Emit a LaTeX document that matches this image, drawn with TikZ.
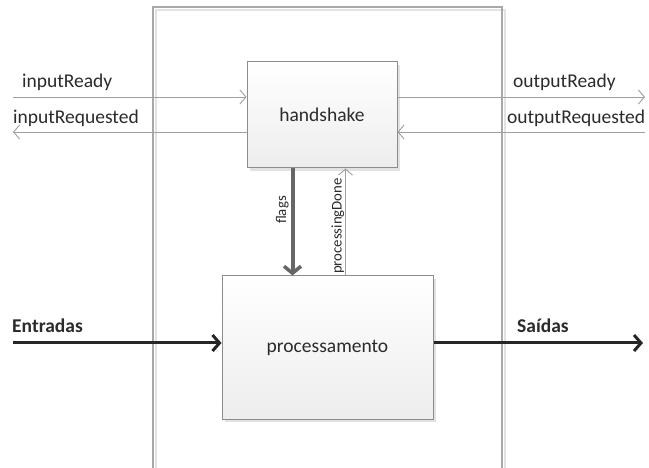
\documentclass[tikz,border=0pt]{standalone}
\usepackage{fontspec}
\setmainfont{Carlito}
\usetikzlibrary{arrows.meta}
\definecolor{txt}{HTML}{2B2B2B}
\definecolor{thinline}{HTML}{A0A0A0}
\definecolor{boxline}{HTML}{8C8C8C}
\definecolor{frameline}{HTML}{A8A8A8}
\definecolor{shadowc}{HTML}{E2E2E2}
\tikzset{
  lbl/.style={font=\fontsize{19.5}{23}\selectfont, text=txt, inner sep=0pt},
  slbl/.style={lbl, font=\fontsize{14.8}{17}\selectfont},
  blbl/.style={lbl, font=\fontsize{19.5}{23}\selectfont\bfseries},
  block/.style={draw=boxline, line width=1pt, top color=white, bottom color=black!7,
    minimum width=#1, inner sep=0pt, font=\fontsize{19.5}{23}\selectfont, text=txt},
  thinarrow/.style={draw=thinline, line width=0.9pt,
    -{Straight Barb[length=6pt,width=14pt,line width=0.9pt]}},
  thickarrow/.style={draw=black!85, line width=3pt,
    -{Straight Barb[length=7pt,width=16pt,line width=3pt]}},
  flagarrow/.style={draw=black!60, line width=4pt,
    -{Straight Barb[length=7pt,width=17pt,line width=3.5pt]}},
}
\begin{document}
\begin{tikzpicture}[x=1pt,y=-1pt]
  \useasboundingbox (0,0) rectangle (649,468);
  \fill[white] (0,0) rectangle (649,468);

  % open frame around the two blocks
  \draw[shadowc, line width=1.2pt] (156,468) -- (156,10) -- (505,10) -- (505,468);
  \draw[frameline, line width=1.3pt] (153,468) -- (153,7) -- (502,7) -- (502,468);

  % block shadows
  \fill[shadowc] (250,65) rectangle (400,171);
  \fill[shadowc] (225,279) rectangle (436,422);

  % blocks
  \node[block=150pt, minimum height=106pt] (hs) at (322,115) {handshake};
  \node[block=211pt, minimum height=143pt] (pr) at (327.5,347.5) {processamento};

  % free ends of the outer connectors
  \coordinate (inR) at (13,97);
  \coordinate (inQ) at (13,132);
  \coordinate (outR) at (645,97);
  \coordinate (outQ) at (645,132);
  \coordinate (ent) at (13,343);
  \coordinate (sai) at (643,343);

  % handshake signals
  \draw[thinarrow] (inR) -- (inR -| hs.west);
  \draw[thinarrow] (inQ -| hs.west) -- (inQ);
  \draw[thinarrow] (outR -| hs.east) -- (outR);
  \draw[thinarrow] (outQ) -- (outQ -| hs.east);

  \node[lbl, anchor=base west] (lInR) at (22,88) {inputReady};
  \node[lbl, anchor=base west] (lInQ) at (13,124) {inputRequested};
  \node[lbl, anchor=base west] (lOutR) at (513,88) {outputReady};
  \node[lbl, anchor=base west] (lOutQ) at (507,124) {outputRequested};

  % internal signals
  \coordinate (fx) at (292.5,0);
  \coordinate (px) at (345.5,0);
  \draw[flagarrow] (hs.south -| fx) -- (pr.north -| fx);
  \draw[thinarrow] (pr.north -| px) -- (hs.south -| px);
  \node[slbl, rotate=90, anchor=base] (lFlags) at (286,210) {flags};
  \node[slbl, rotate=90, anchor=base] (lDone) at (341.5,226) {processingDone};

  % data path
  \draw[thickarrow] (ent) -- (ent -| pr.west);
  \draw[thickarrow] (sai -| pr.east) -- (sai);
  \node[blbl, anchor=base west] (lEnt) at (12,333) {Entradas};
  \node[blbl, anchor=base west] (lSai) at (517,333) {Saídas};
\end{tikzpicture}
\end{document}
